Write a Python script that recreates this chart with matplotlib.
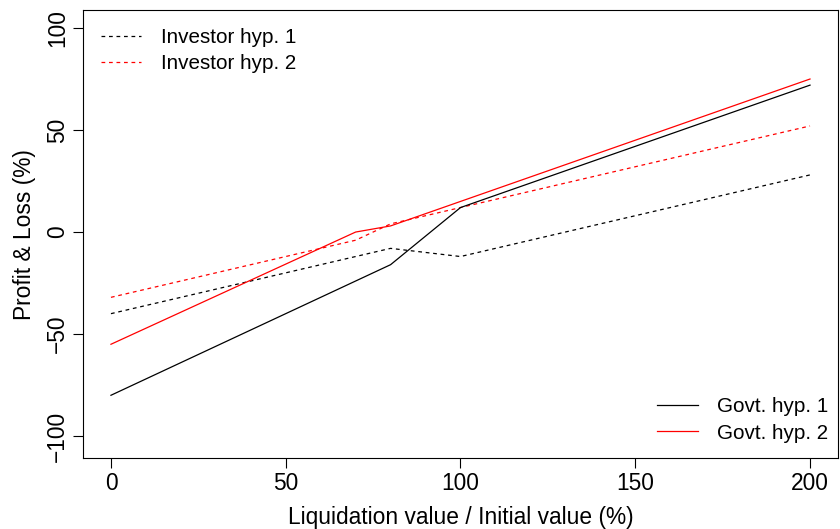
import matplotlib
matplotlib.use("Agg")
import matplotlib.pyplot as plt

plt.rcParams['font.family'] = ['Liberation Sans', 'DejaVu Sans']

# kink points
gov1_x = [0, 80, 100, 200]
gov1_y = [-80, -16, 12, 72]
gov2_x = [0, 70, 80, 200]
gov2_y = [-55, 0, 3, 75]
inv1_x = [0, 80, 100, 200]
inv1_y = [-40, -8, -12, 28]
inv2_x = [0, 70, 80, 200]
inv2_y = [-32, -4, 4, 52]

fs = 16.4
lfs = 14.9
fig = plt.figure(figsize=(8.4, 5.29), dpi=100)
ax = fig.add_axes([0.0988, 0.134, 0.8988, 0.847])

l1, = ax.plot(inv1_x, inv1_y, color='black', lw=0.9, ls=(0, (3, 3)))
l2, = ax.plot(inv2_x, inv2_y, color='red', lw=0.9, ls=(0, (3, 3)))
l3, = ax.plot(gov1_x, gov1_y, color='black', lw=0.9)
l4, = ax.plot(gov2_x, gov2_y, color='red', lw=0.9)

ax.set_xlim(-8, 208)
ax.set_ylim(-110.8, 108.8)
ax.set_xticks([0, 50, 100, 150, 200])
ax.set_yticks([-100, -50, 0, 50, 100])
ax.set_yticklabels(['\u2212100', '\u221250', '0', '50', '100'], rotation=90, va='center')
ax.tick_params(direction='out', length=7, width=0.8, labelsize=fs, pad=3)
for s in ax.spines.values():
    s.set_linewidth(0.8)
ax.set_xlabel('Liquidation value / Initial value (%)', fontsize=fs, labelpad=8)
ax.set_ylabel('Profit & Loss (%)', fontsize=fs, labelpad=7)

leg1 = ax.legend([l1, l2], ['Investor hyp. 1', 'Investor hyp. 2'], loc='upper left',
                 bbox_to_anchor=(0.003, 0.995),
                 frameon=False, fontsize=lfs, handlelength=1.95, handletextpad=0.95,
                 borderaxespad=0.35, labelspacing=0.36)
ax.add_artist(leg1)
ax.legend([l3, l4], ['Govt. hyp. 1', 'Govt. hyp. 2'], loc='lower right',
          bbox_to_anchor=(1.008, 0.0),
          frameon=False, fontsize=lfs, handlelength=1.95, handletextpad=0.95,
          borderaxespad=0.35, labelspacing=0.36)

fig.savefig('out.png', dpi=100)
